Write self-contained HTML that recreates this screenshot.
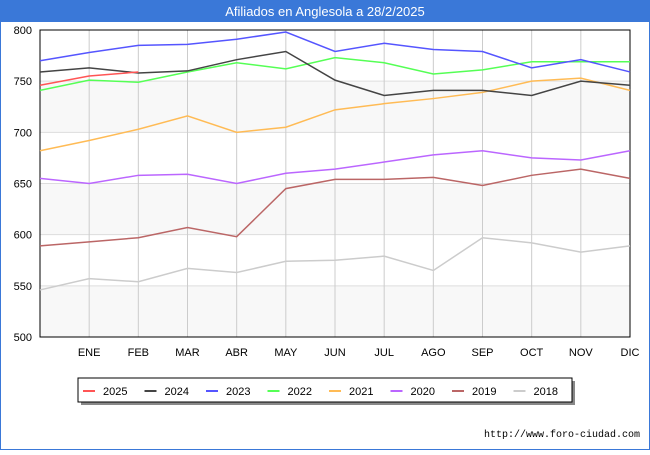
<!DOCTYPE html>
<html><head><meta charset="utf-8"><style>
body{margin:0;width:650px;height:450px;overflow:hidden;font-family:"Liberation Sans","DejaVu Sans",sans-serif;}
</style></head><body>
<svg width="650" height="450" xmlns="http://www.w3.org/2000/svg">
<rect x="0" y="0" width="650" height="450" fill="#fff" stroke="#3a78d8" stroke-width="2"/>
<rect x="0" y="0" width="650" height="22" fill="#3a78d8"/>
<text x="325" y="16" text-anchor="middle" fill="#fff" font-size="13">Afiliados en Anglesola a 28/2/2025</text>
<g id="plot"></g>
<g id="legend"></g>
<text x="640" y="437" text-anchor="end" font-size="10" font-family="Liberation Mono, monospace" fill="#000">http://www.foro-ciudad.com</text>
</svg>
<script>
const months=["","ENE","FEB","MAR","ABR","MAY","JUN","JUL","AGO","SEP","OCT","NOV","DIC"];
const yTicks=[500,550,600,650,700,750,800];
const seriesNames=["2025","2024","2023","2022","2021","2020","2019","2018"];
const seriesColors=["#ff5555","#444444","#5555ff","#55ff55","#ffbb55","#bb66ff","#bb6666","#cccccc"];
const s2025=[746,755,759];
const s2024=[759,763,758,760,771,779,751,736,741,741,736,750,746];
const s2023=[770,778,785,786,791,798,779,787,781,779,763,771,759];
const s2022=[741,751,749,759,768,762,773,768,757,761,769,769,769];
const s2021=[682,692,703,716,700,705,722,728,733,739,750,753,741];
const s2020=[655,650,658,659,650,660,664,671,678,682,675,673,682];
const s2019=[589,593,597,607,598,645,654,654,656,648,658,664,655];
const s2018=[546,557,554,567,563,574,575,579,565,597,592,583,589];
const allSeries=[s2025,s2024,s2023,s2022,s2021,s2020,s2019,s2018];
const NS="http://www.w3.org/2000/svg";
const L=40,R=630,T=30,B=337,ymin=500,ymax=800;
const xs=i=>L+(R-L)*i/(months.length-1);
const ys=v=>B-(v-ymin)/(ymax-ymin)*(B-T);
const plot=document.getElementById('plot');
function mk(t,a,p){const e=document.createElementNS(NS,t);for(const k in a)e.setAttribute(k,a[k]);(p||plot).appendChild(e);return e;}
for(let i=0;i<yTicks.length-1;i+=2){
 const b=mk('rect',{x:L,y:ys(yTicks[i+1]),width:R-L,height:ys(yTicks[i])-ys(yTicks[i+1]),fill:'#f8f8f8'});
 
 
}
yTicks.forEach(v=>{
 const g=mk('line',{x1:L,x2:R,y1:ys(v),y2:ys(v),stroke:'#ddd'});
 
 
 const t=mk('text',{x:L-8,y:ys(v)+4,'text-anchor':'end','font-size':11});
 t.textContent=v;
 
 
});
months.forEach((m,i)=>{
 if(i==0)return;
 const g=mk('line',{x1:xs(i),x2:xs(i),y1:T,y2:B,stroke:'#ccc'});
 
 
 const t=mk('text',{x:xs(i),y:B+19,'text-anchor':'middle','font-size':11});
 t.textContent=m;
 
 
});
const ax=mk('rect',{x:L,y:T,width:R-L,height:B-T,fill:'none',stroke:'#000'});


for(let s=allSeries.length-1;s>=0;s--){
 const pts=allSeries[s].map((v,i)=>xs(i)+','+ys(v)).join(' ');
 const p=mk('polyline',{points:pts,fill:'none',stroke:seriesColors[s],'stroke-width':1.5});
 
 
}
const lg=document.getElementById('legend');
const sh=mk('rect',{x:81,y:381,width:494,height:24,fill:'#888'},lg);


const lb=mk('rect',{x:78,y:378,width:494,height:24,fill:'#fff',stroke:'#000'},lg);


seriesNames.forEach((n,i)=>{
 const x0=83+i*61.5;
 const l=mk('line',{x1:x0,x2:x0+12,y1:391,y2:391,stroke:seriesColors[i],'stroke-width':2},lg);
 
 
 const t=mk('text',{x:x0+20,y:395,'font-size':11},lg);
 t.textContent=n;
 
 
});
</script>
</body></html>
